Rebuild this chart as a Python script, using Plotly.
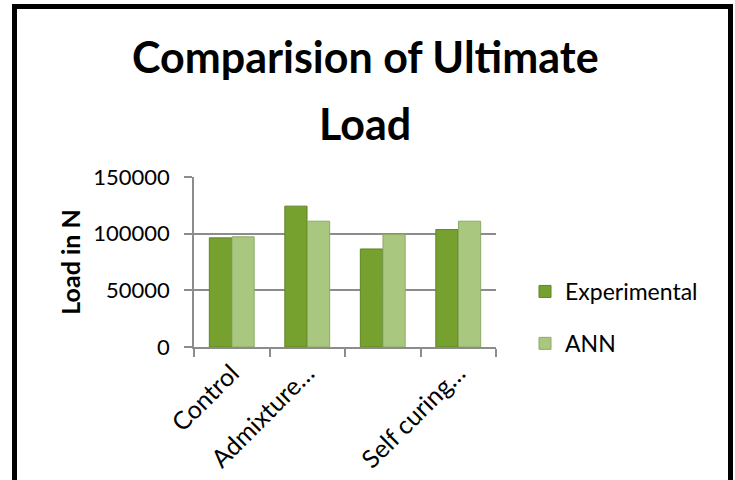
import plotly.graph_objects as go

categories = ["Control", "Admixture…", "Category 3", "Self curing…"]
tick_labels = ["Control", "Admixture…", "", "Self curing…"]
experimental = [96300, 124300, 86500, 103600]
ann = [97200, 111000, 99200, 111000]
title_lines = ["Comparision of Ultimate", "Load"]

EXP_COLOR = "#77A12F"
ANN_COLOR = "#A9C77E"
AXIS_GRAY = "#8C8C8C"
FONT = "Lato"

# plot area in page pixels
PL, PR, PT, PB = 194, 496, 177, 347
W, H = 735, 480

def py(p):
    return (PB - p) / (PB - PT)

def px(p):
    return (p - PL) / (PR - PL)

fig = go.Figure()
fig.add_trace(go.Bar(
    x=categories, y=experimental, name="Experimental",
    marker=dict(color=EXP_COLOR, line=dict(color="#5E8424", width=1)),
    legendgroup="exp",
))
fig.add_trace(go.Bar(
    x=categories, y=ann, name="ANN",
    marker=dict(color=ANN_COLOR, line=dict(color="#8DAA66", width=1)),
    legendgroup="ann",
))

fig.update_layout(
    width=W, height=H,
    margin=dict(l=PL, r=W - PR, t=PT, b=H - PB, autoexpand=False),
    paper_bgcolor="white", plot_bgcolor="white",
    barmode="group", bargap=0.40, bargroupgap=0.02,
    font=dict(family=FONT, color="black", size=22),
    legend=dict(
        x=px(525), xanchor="left", y=py(270), yanchor="top",
        font=dict(family=FONT, size=23, color="black"),
        tracegroupgap=19, bgcolor="rgba(0,0,0,0)",
    ),
    showlegend=True,
    annotations=[
        dict(text="<b>%s</b>" % title_lines[0], xref="paper", yref="paper",
             x=px(365), y=py(56), xanchor="center", yanchor="middle",
             showarrow=False, font=dict(family=FONT, size=43, color="black")),
        dict(text="<b>%s</b>" % title_lines[1], xref="paper", yref="paper",
             x=px(365), y=py(123), xanchor="center", yanchor="middle",
             showarrow=False, font=dict(family=FONT, size=43, color="black")),
    ],
    shapes=[dict(
        type="rect", xref="paper", yref="paper",
        x0=px(14.5), x1=px(730.5), y0=py(520), y1=py(6.5),
        line=dict(color="black", width=5), fillcolor="rgba(0,0,0,0)",
        layer="above",
    )],
)

fig.update_xaxes(
    type="category", tickvals=categories, ticktext=tick_labels,
    tickson="boundaries", ticks="outside", ticklen=8, tickcolor=AXIS_GRAY,
    tickwidth=1.5, showline=True, linecolor=AXIS_GRAY, linewidth=1.5,
    showgrid=False, tickangle=-45, tickfont=dict(family=FONT, size=25),
    automargin=False,
)
fig.update_yaxes(
    range=[0, 150000], tickvals=[0, 50000, 100000, 150000],
    ticktext=["0", "50000", "100000", "150000"],
    ticks="outside", ticklen=8, tickcolor=AXIS_GRAY, tickwidth=1.5,
    showline=True, linecolor=AXIS_GRAY, linewidth=1.5,
    showgrid=True, gridcolor=AXIS_GRAY, gridwidth=1.5,
    zeroline=False, ticklabelstandoff=10, automargin=False,
    tickfont=dict(family=FONT, size=22),
    title=dict(text="<b>Load in N</b>", font=dict(family=FONT, size=25), standoff=6),
)

fig.write_html("out.html", config={"displayModeBar": False},
               post_script="document.body.style.margin='0';")
